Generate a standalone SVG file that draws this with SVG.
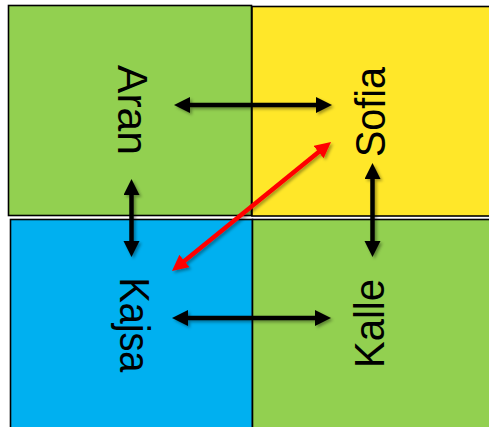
<svg xmlns="http://www.w3.org/2000/svg" width="489" height="427" viewBox="0 0 489 427">
  <style>
    .box { stroke: #000; stroke-width: 1.6; }
    .green { fill: #92D050; }
    .yellow { fill: #FFE729; }
    .blue { fill: #00B0F0; }
    .lbl { font-family: "Liberation Sans", Arial, sans-serif; font-size: 43px; fill: #000; text-anchor: middle; }
    .conn { stroke-width: 4.5; fill: none; }
    .blk { stroke: #000; }
    .red { stroke: #FF0000; }
  </style>
  <defs>
    <filter id="sh" x="-20%" y="-20%" width="140%" height="140%">
      <feDropShadow dx="2" dy="2" stdDeviation="1.5" flood-color="#000" flood-opacity="0.35"/>
    </filter>
    <marker id="ah" markerUnits="userSpaceOnUse" markerWidth="18" markerHeight="17" refX="4" refY="8" orient="auto-start-reverse">
      <path d="M0,0 L16,8 L0,16 z" fill="#000"/>
    </marker>
    <marker id="ahr" markerUnits="userSpaceOnUse" markerWidth="18" markerHeight="17" refX="4" refY="8" orient="auto-start-reverse">
      <path d="M0,0 L16,8 L0,16 z" fill="#FF0000"/>
    </marker>
  </defs>
  <rect width="489" height="427" fill="#fff"/>
  <g id="node-aran">
    <rect class="box green" x="8.5" y="5.5" width="243" height="210"/>
    <text class="lbl" transform="translate(118,110) rotate(90)" textLength="90" lengthAdjust="spacingAndGlyphs">Aran</text>
  </g>
  <g id="node-sofia">
    <rect class="box yellow" x="252" y="6.5" width="242" height="209.5"/>
    <text class="lbl" transform="translate(385,112) rotate(-90)" textLength="90" lengthAdjust="spacingAndGlyphs">Sofia</text>
  </g>
  <g id="node-kajsa">
    <rect class="box blue" x="10.5" y="219.5" width="242" height="212"/>
    <text class="lbl" transform="translate(120,325) rotate(90)" textLength="95" lengthAdjust="spacingAndGlyphs">Kajsa</text>
  </g>
  <g id="node-kalle">
    <rect class="box green" x="252.5" y="219.5" width="242" height="212"/>
    <text class="lbl" transform="translate(384,323.5) rotate(-90)" textLength="89" lengthAdjust="spacingAndGlyphs">Kalle</text>
  </g>
  <g id="connectors" filter="url(#sh)">
    <line class="conn blk" x1="186" y1="105" x2="320" y2="105" marker-start="url(#ah)" marker-end="url(#ah)"/>
    <line class="conn blk" x1="184" y1="318" x2="319" y2="318" marker-start="url(#ah)" marker-end="url(#ah)"/>
    <line class="conn blk" x1="131.5" y1="191" x2="131.5" y2="245" marker-start="url(#ah)" marker-end="url(#ah)"/>
    <line class="conn blk" x1="372.5" y1="175" x2="372.5" y2="245" marker-start="url(#ah)" marker-end="url(#ah)"/>
    <line class="conn red" x1="321.7" y1="149.6" x2="181.3" y2="263.4" marker-start="url(#ahr)" marker-end="url(#ahr)"/>
  </g>
</svg>
